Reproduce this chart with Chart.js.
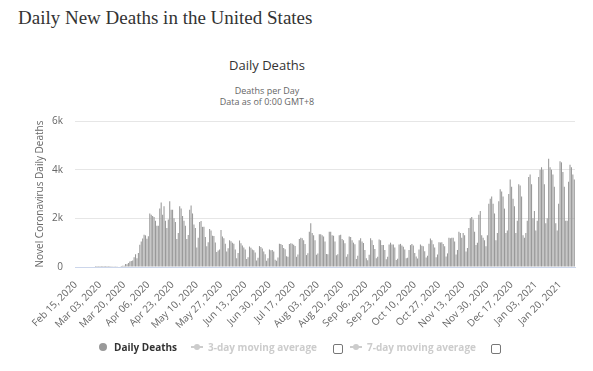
<!DOCTYPE html>
<html>
<head>
<meta charset="utf-8">
<title>Daily New Deaths in the United States</title>
<script src="https://cdn.jsdelivr.net/npm/chart.js"></script>
<style>
  body { margin: 0; background: #fff; }
  #wrap { position: relative; width: 593px; height: 371px; overflow: hidden; }
  #pageTitle { position: absolute; left: 18px; top: 8px; font: 19px/19px "Liberation Serif", "Times New Roman", serif; color: #333; white-space: nowrap; }
  .ctitle { position: absolute; left: 167px; width: 200px; text-align: center; font-family: "Open Sans", sans-serif; white-space: nowrap; }
  #chartTitle { top: 56px; font-size: 13px; line-height: 18px; color: #333; }
  #sub1 { top: 85px; font-size: 9px; line-height: 11px; color: #666; }
  #sub2 { top: 96px; font-size: 9px; line-height: 11px; color: #666; }
  canvas { position: absolute; left: 0; top: 0; }
  .leg { position: absolute; top: 340px; font: bold 10px/14px "Open Sans", sans-serif; white-space: nowrap; }
  .dot { position: absolute; top: 343px; width: 8px; height: 8px; border-radius: 50%; background: #999; }
  .sym { position: absolute; top: 346px; width: 12px; height: 2px; background: #ccc; }
  .sym:after { content: ""; position: absolute; left: 3px; top: -2px; width: 6px; height: 6px; border-radius: 50%; background: #ccc; }
  .box { position: absolute; top: 344px; width: 8px; height: 8px; border: 1px solid #777; border-radius: 2px; background: #fff; }
</style>
</head>
<body>
<div id="wrap">
  <div id="pageTitle">Daily New Deaths in the United States</div>
  <div class="ctitle" id="chartTitle">Daily Deaths</div>
  <div class="ctitle" id="sub1">Deaths per Day</div>
  <div class="ctitle" id="sub2">Data as of 0:00 GMT+8</div>
  <canvas id="chart" width="593" height="371"></canvas>
  <span class="dot" style="left:99px"></span>
  <span class="leg" style="left:114px;color:#333">Daily Deaths</span>
  <span class="sym" style="left:191px"></span>
  <span class="leg" style="left:208px;color:#ccc">3-day moving average</span>
  <span class="box" style="left:333px"></span>
  <span class="sym" style="left:350px"></span>
  <span class="leg" style="left:367px;color:#ccc">7-day moving average</span>
  <span class="box" style="left:491px"></span>
</div>
<script>
// first day of the series, one bar per day
const startDate = new Date(2020, 1, 15)

// labels shown under the x axis (every 17th day)
const tickLabels = ['Feb 15, 2020', 'Mar 03, 2020', 'Mar 20, 2020', 'Apr 06, 2020', 'Apr 23, 2020',
  'May 10, 2020', 'May 27, 2020', 'Jun 13, 2020', 'Jun 30, 2020', 'Jul 17, 2020', 'Aug 03, 2020',
  'Aug 20, 2020', 'Sep 06, 2020', 'Sep 23, 2020', 'Oct 10, 2020', 'Oct 27, 2020', 'Nov 13, 2020',
  'Nov 30, 2020', 'Dec 17, 2020', 'Jan 03, 2021', 'Jan 20, 2021']
const tickEvery = 17

// daily deaths
const deathsFeb = [0, 0, 0, 0, 0, 0, 0, 0, 0, 0, 0, 0, 0, 0, 1]
const deathsMar = [1, 5, 1, 3, 1, 2, 3, 4, 4, 5, 8, 7, 11, 10, 12, 18, 23, 41, 53, 53, 119, 117, 161, 225, 247, 268, 400, 525, 363, 573, 912]
const deathsApr = [1050, 1170, 1330, 1300, 1160, 1260, 2200, 2150, 2100, 2050, 1900, 1700, 1700, 2400, 2650, 2150, 2500, 1900, 1600, 1950, 2700, 2350, 2350, 2000, 1850, 1150, 1400, 2500, 2400, 2100]
const deathsMay = [1900, 1700, 1150, 1320, 2350, 2530, 2200, 1750, 1600, 800, 1200, 1850, 1890, 1650, 1650, 1230, 850, 1020, 1560, 1500, 1280, 1270, 1010, 620, 680, 720, 1520, 1250, 1180, 960, 640]
const deathsJun = [770, 1100, 1060, 1000, 960, 720, 360, 580, 1090, 980, 880, 800, 720, 330, 400, 840, 790, 720, 690, 600, 270, 380, 860, 820, 760, 640, 520, 260, 360, 720]
const deathsJul = [690, 700, 640, 300, 260, 390, 960, 950, 900, 780, 730, 440, 420, 950, 980, 960, 910, 860, 420, 510, 1150, 1200, 1180, 1100, 950, 490, 570, 1450, 1800, 1400, 1300]
const deathsAug = [1100, 500, 550, 1350, 1350, 1300, 1250, 1050, 530, 520, 1450, 1450, 1300, 1280, 1050, 480, 520, 1300, 1330, 1150, 1100, 980, 420, 520, 1250, 1230, 1100, 1000, 930, 330, 460]
const deathsSep = [1100, 1180, 1050, 990, 700, 360, 280, 500, 1180, 1100, 900, 740, 360, 420, 1130, 1100, 900, 900, 700, 320, 420, 920, 1000, 920, 920, 800, 290, 340, 920, 950]
const deathsOct = [880, 830, 720, 360, 380, 700, 900, 950, 880, 580, 430, 350, 720, 920, 870, 850, 650, 390, 460, 960, 1170, 1100, 940, 800, 400, 510, 1020, 1010, 1020, 950, 850]
const deathsNov = [430, 560, 1200, 1180, 1200, 1200, 1050, 510, 700, 1450, 1400, 1200, 1400, 1300, 640, 780, 1600, 2000, 2050, 1950, 1450, 900, 1000, 2150, 2300, 1300, 1200, 1100, 850, 1300]
const deathsDec = [2600, 2800, 2900, 2600, 2200, 1100, 1400, 2700, 3200, 3100, 2900, 2400, 1400, 1500, 3000, 3600, 3300, 2800, 2500, 1400, 1900, 3400, 3350, 2900, 1300, 1200, 1400, 1900, 3700, 3800, 3400]
const deathsJan = [2000, 2300, 1500, 1900, 3700, 4000, 4100, 4000, 3400, 1800, 2000, 4450, 4100, 4000, 3800, 3300, 1800, 1500, 2600, 4350, 4300, 3900, 3300, 1900, 1900, 3500, 4200, 4100, 3800, 3600]

const deaths = [].concat(deathsFeb, deathsMar, deathsApr, deathsMay, deathsJun, deathsJul,
  deathsAug, deathsSep, deathsOct, deathsNov, deathsDec, deathsJan)

const months = ['Jan', 'Feb', 'Mar', 'Apr', 'May', 'Jun', 'Jul', 'Aug', 'Sep', 'Oct', 'Nov', 'Dec']

function makeDays(count) {
  let days = []
  for (let i = 0; i < count; i++) {
    let d = new Date(startDate.getFullYear(), startDate.getMonth(), startDate.getDate() + i)
    let dd = d.getDate() < 10 ? '0' + d.getDate() : '' + d.getDate()
    days.push(months[d.getMonth()] + ' ' + dd + ', ' + d.getFullYear())
  }
  return days
}

const days = makeDays(deaths.length)

Chart.defaults.font.family = '"Open Sans", sans-serif'
Chart.defaults.color = '#666'

const chart = new Chart(document.getElementById('chart'), {
  type: 'bar',
  data: {
    labels: days,
    datasets: [
      {
        label: 'Daily Deaths',
        data: deaths,
        backgroundColor: '#999999',
        borderWidth: 0,
        categoryPercentage: 1.0,
        barPercentage: 0.75
      }
    ]
  },
  options: {
    responsive: false,
    animation: false,
    layout: { padding: { left: 30, right: 18, top: 121, bottom: 0 } },
    plugins: {
      legend: { display: false },
      tooltip: { enabled: false }
    },
    scales: {
      x: {
        grid: { display: false },
        border: { display: true, color: '#ccd6eb', width: 1 },
        ticks: {
          autoSkip: false,
          minRotation: 45,
          maxRotation: 45,
          padding: 4,
          font: { size: 10 },
          color: '#666',
          callback: function(value, index) {
            if (index % tickEvery !== 0) return ''
            return tickLabels[index / tickEvery] || ''
          }
        },
        afterFit: function(scale) {
          scale.height = 104
          scale.paddingLeft = 0
          scale.paddingRight = 0
        }
      },
      y: {
        min: 0,
        max: 6000,
        border: { display: false },
        grid: {
          drawTicks: false,
          color: ctx => ctx.tick && ctx.tick.value === 0 ? 'rgba(0,0,0,0)' : '#e6e6e6'
        },
        ticks: {
          stepSize: 2000,
          padding: 12,
          font: { size: 10 },
          color: '#666',
          callback: v => v === 0 ? '0' : (v / 1000) + 'k'
        },
        title: {
          display: true,
          text: 'Novel Coronavirus Daily Deaths',
          color: '#666',
          font: { size: 10 },
          padding: { top: 4, bottom: 4 }
        },
        afterFit: function(scale) {
          scale.width = 45
        }
      }
    }
  }
})
</script>
</body>
</html>
